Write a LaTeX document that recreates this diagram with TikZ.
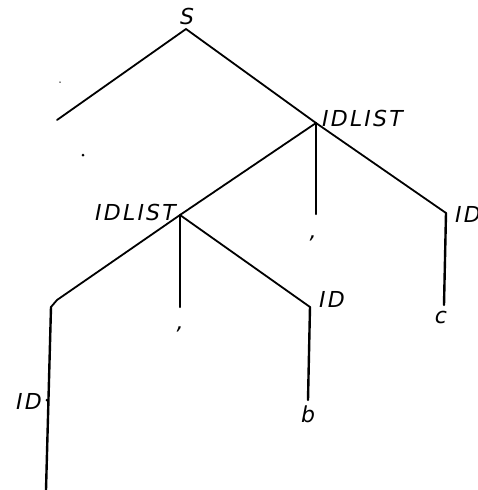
\documentclass[tikz,border=0pt]{standalone}
\usepackage{fontspec}
\usepackage{tikz}
\usetikzlibrary{positioning}
\newfontfamily\handfont[LetterSpace=10]{DejaVu Sans}
\tikzset{
  branch/.style={line width=1.8pt,draw=black,line cap=round},
  stem/.style={line width=2.4pt,draw=black,line cap=round},
  sym/.style={font=\fontsize{22}{22}\selectfont\handfont\slshape,inner sep=1pt},
  term/.style={font=\fontsize{22}{22}\selectfont\handfont\slshape,inner sep=1pt},
  speck/.style={circle,fill=black,inner sep=0pt,minimum size=3pt}
}
\begin{document}
\begin{tikzpicture}[x=1pt,y=-1pt]
    \useasboundingbox (0,0) rectangle (477,490);
    \fill[white] (0,0) rectangle (477,490);

    % vertices of the tree
    \coordinate (s) at (186,29);
    \coordinate (sleft) at (57,120);
    \coordinate (top) at (316,123);
    \coordinate (topmid) at (316,214);
    \coordinate (topright) at (446,213);
    \coordinate (cend) at (444,305);
    \coordinate (low) at (180,215);
    \coordinate (lowleft) at (57,300);
    \coordinate (lowbend) at (51,307);
    \coordinate (lowend) at (46,490);
    \coordinate (lowmid) at (180,307);
    \coordinate (lowright) at (310,307);
    \coordinate (bend) at (308,400);

    % labels
    \node[sym,anchor=south] (slabel) at (187,26) {S};
    \node[sym,anchor=south west] (toplabel) at (321,128) {IDLIST};
    \node[sym,anchor=south east] (lowlabel) at (177,222) {IDLIST};
    \node[sym,anchor=west] (idright) at (454,214) {ID};
    \node[sym,anchor=south west] (idmid) at (318,309) {ID};
    \node[sym,anchor=east] (idleft) at (43,401) {ID};
    \node[term,anchor=north] (cleaf) at (441,310) {c};
    \node[term,anchor=north] (bleaf) at (308,405) {b};
    \node[term] (comma1) at (313,238) {,};
    \node[term] (comma2) at (180,329) {,};
    \node[speck] (iddot) at (47,400) {};
    \node[speck,minimum size=1.5pt] (stray1) at (60,82) {};
    \node[speck] (stray2) at (83,155) {};

    \draw[branch] (s) -- (sleft);
    \draw[branch] (s) -- (top);
    \draw[stem] (top) -- (topmid);
    \draw[branch] (top) -- (topright);
    \draw[stem] (topright) -- (cend);
    \draw[branch] (top) -- (low);
    \draw[branch] (low) -- (lowleft) -- (lowbend);
    \draw[stem] (lowbend) -- (lowend);
    \draw[stem] (low) -- (lowmid);
    \draw[branch] (low) -- (lowright);
    \draw[stem] (lowright) -- (bend);
  \end{tikzpicture}
\end{document}
